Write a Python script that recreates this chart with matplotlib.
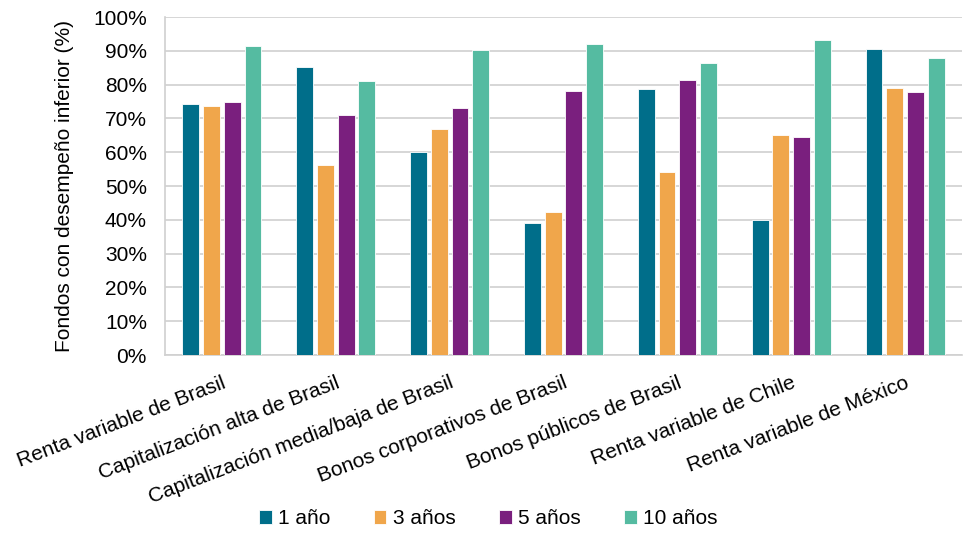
import matplotlib
matplotlib.use("Agg")
import matplotlib.pyplot as plt
import numpy as np
from matplotlib.ticker import FuncFormatter

categories = ["Renta variable de Brasil", "Capitalización alta de Brasil",
              "Capitalización media/baja de Brasil", "Bonos corporativos de Brasil",
              "Bonos públicos de Brasil", "Renta variable de Chile", "Renta variable de México"]
series_names = ["1 año", "3 años", "5 años", "10 años"]
v1 = [74.2, 85.1, 60.0, 39.2, 78.6, 40.0, 90.6]
v3 = [73.6, 56.1, 66.9, 42.3, 54.2, 65.1, 79.0]
v5 = [74.8, 71.1, 73.0, 78.2, 81.5, 64.4, 77.8]
v10 = [91.5, 81.0, 90.1, 92.1, 86.4, 93.2, 87.8]
colors = ["#006E8A", "#F0A64B", "#7A1F7E", "#55BBA1"]

plt.rcParams['font.family'] = ['Liberation Sans', 'DejaVu Sans']

fig = plt.figure(figsize=(9.67, 5.35), dpi=100)
ax = fig.add_axes([0.1706, 0.3364, 0.8242, 0.6318])

x = np.arange(len(categories))
step = 0.182
width = 0.148
for i, (vals, name, c) in enumerate(zip([v1, v3, v5, v10], series_names, colors)):
    ax.bar(x + (i - 1.5) * step, vals, width, color=c, label=name,
           edgecolor='white', linewidth=0.6, zorder=3)

ax.set_xlim(-0.5, len(categories) - 0.5)
ax.set_ylim(0, 100)
ax.set_yticks(np.arange(0, 101, 10))
ax.yaxis.set_major_formatter(FuncFormatter(lambda v, p: f"{int(v)}%"))
ax.grid(axis='y', color='#D0D0D0', linewidth=1.2, zorder=0)
for s in ['top', 'right']:
    ax.spines[s].set_visible(False)
for s in ['left', 'bottom']:
    ax.spines[s].set_color('#D0D0D0')
    ax.spines[s].set_linewidth(1.2)
ax.tick_params(axis='both', length=0, labelsize=15, colors='#000000')
ax.tick_params(axis='y', pad=13)
ax.set_xticks(x)
ax.set_xticklabels(categories, rotation=21, ha='right', rotation_mode='anchor')
ax.tick_params(axis='x', pad=13)
ax.set_ylabel("Fondos con desempeño inferior (%)", fontsize=15, labelpad=14)

handles, labels = ax.get_legend_handles_labels()
fig.legend(handles, labels, loc='center', bbox_to_anchor=(0.505, 0.03), ncol=4,
           frameon=False, fontsize=15, handlelength=0.6, handleheight=0.6,
           handletextpad=0.3, columnspacing=2.1)

fig.savefig("out.png", dpi=100)
